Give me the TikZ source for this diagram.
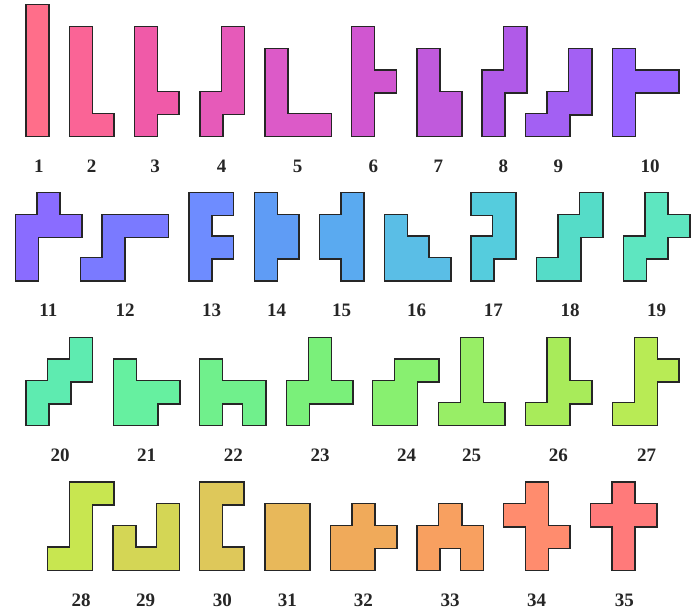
\documentclass[tikz,border=0pt]{standalone}
\usepackage{fontspec}
\setmainfont{Liberation Serif}
\usepackage{xcolor}
\def\hu{21.7}
\newcommand\hexo[4]{%
  \foreach \cc/\rr in {#4} {\draw[hexedge] (#1+\cc*\hu, #2+\rr*\hu) rectangle ++(\hu,\hu);}
  \foreach \cc/\rr in {#4} {\fill[#3] (#1+\cc*\hu, #2+\rr*\hu) rectangle ++(\hu,\hu);}
}
\definecolor{c1}{HTML}{FF6E8A}
\definecolor{c2}{HTML}{FA6496}
\definecolor{c3}{HTML}{F05AA8}
\definecolor{c4}{HTML}{E65AB9}
\definecolor{c5}{HTML}{DC5AC8}
\definecolor{c6}{HTML}{D056D0}
\definecolor{c7}{HTML}{C05ADC}
\definecolor{c8}{HTML}{B05AE8}
\definecolor{c9}{HTML}{A360F3}
\definecolor{c10}{HTML}{9966FF}
\definecolor{c11}{HTML}{8A6CFF}
\definecolor{c12}{HTML}{7A7AFF}
\definecolor{c13}{HTML}{6E8CFF}
\definecolor{c14}{HTML}{5F9CF5}
\definecolor{c15}{HTML}{5AAAF0}
\definecolor{c16}{HTML}{5ABEE6}
\definecolor{c17}{HTML}{55CCDD}
\definecolor{c18}{HTML}{55DCC8}
\definecolor{c19}{HTML}{5EE6C0}
\definecolor{c20}{HTML}{5EEBB0}
\definecolor{c21}{HTML}{66F0A0}
\definecolor{c22}{HTML}{70F08C}
\definecolor{c23}{HTML}{7AF07A}
\definecolor{c24}{HTML}{88F070}
\definecolor{c25}{HTML}{98EE66}
\definecolor{c26}{HTML}{A8EB5A}
\definecolor{c27}{HTML}{B8EB55}
\definecolor{c28}{HTML}{C8E650}
\definecolor{c29}{HTML}{D4D655}
\definecolor{c30}{HTML}{DEC85A}
\definecolor{c31}{HTML}{E8B85A}
\definecolor{c32}{HTML}{F0AA5A}
\definecolor{c33}{HTML}{F8A060}
\definecolor{c34}{HTML}{FF8C6E}
\definecolor{c35}{HTML}{FF7A7A}
\tikzset{
  hexedge/.style={draw=black!85, fill=black!85, line width=2.8pt, line join=miter},
  numlbl/.style={font=\fontsize{19}{19}\selectfont\bfseries, text=black!85, inner sep=0pt, anchor=center}
}
\begin{document}
\begin{tikzpicture}[x=1pt,y=-1pt]
\useasboundingbox (0,0) rectangle (696,610);
\fill[white] (0,0) rectangle (696,610);
% row 1
\hexo{26.7}{5.5}{c1}{0/0,0/1,0/2,0/3,0/4,0/5}
\hexo{70}{27.2}{c2}{0/0,0/1,0/2,0/3,0/4,1/4}
\hexo{135}{27.2}{c3}{0/0,0/1,0/2,0/3,0/4,1/3}
\hexo{200.5}{27.2}{c4}{1/0,1/1,1/2,1/3,0/3,0/4}
\hexo{265.7}{49}{c5}{0/0,0/1,0/2,0/3,1/3,2/3}
\hexo{352.3}{27.2}{c6}{0/0,0/1,0/2,0/3,0/4,1/2}
\hexo{417.7}{49}{c7}{0/0,0/1,0/2,0/3,1/2,1/3}
\hexo{482.7}{27.2}{c8}{1/0,1/1,1/2,0/2,0/3,0/4}
\hexo{526}{49}{c9}{2/0,2/1,2/2,1/2,1/3,0/3}
\hexo{613.3}{49}{c10}{0/0,0/1,0/2,0/3,1/1,2/1}
% row 2
\hexo{16}{193.3}{c11}{1/0,0/1,1/1,2/1,0/2,0/3}
\hexo{81}{215}{c12}{1/0,2/0,3/0,1/1,1/2,0/2}
\hexo{189.5}{193.3}{c13}{0/0,0/1,0/2,0/3,1/0,1/2}
\hexo{255}{193.3}{c14}{0/0,0/1,0/2,0/3,1/1,1/2}
\hexo{320}{193.3}{c15}{1/0,1/1,1/2,1/3,0/1,0/2}
\hexo{385}{215}{c16}{0/0,0/1,0/2,1/1,1/2,2/2}
\hexo{471.7}{193.3}{c17}{0/0,1/0,1/1,1/2,0/2,0/3}
\hexo{537}{193.3}{c18}{2/0,2/1,1/1,1/2,1/3,0/3}
\hexo{624}{193.3}{c19}{1/0,1/1,2/1,1/2,0/2,0/3}
% row 3
\hexo{26.7}{338}{c20}{2/0,2/1,1/1,1/2,0/2,0/3}
\hexo{114}{359.7}{c21}{0/0,0/1,0/2,1/1,2/1,1/2}
\hexo{200}{359.7}{c22}{0/0,0/1,0/2,1/1,2/1,2/2}
\hexo{287.3}{338}{c23}{1/0,1/1,1/2,0/2,2/2,0/3}
\hexo{373.3}{359.7}{c24}{1/0,2/0,0/1,1/1,0/2,1/2}
\hexo{439.3}{338}{c25}{1/0,1/1,1/2,1/3,0/3,2/3}
\hexo{526}{338}{c26}{1/0,1/1,1/2,1/3,2/2,0/3}
\hexo{613.3}{338}{c27}{1/0,1/1,1/2,1/3,2/1,0/3}
% row 4
\hexo{48.3}{482.7}{c28}{1/0,2/0,1/1,1/2,1/3,0/3}
\hexo{113.5}{504.4}{c29}{2/0,0/1,2/1,0/2,1/2,2/2}
\hexo{200}{482.7}{c30}{0/0,0/1,0/2,0/3,1/0,1/3}
\hexo{265.7}{504.4}{c31}{0/0,1/0,0/1,1/1,0/2,1/2}
\hexo{331}{504.4}{c32}{1/0,0/1,1/1,2/1,0/2,1/2}
\hexo{417.7}{504.4}{c33}{1/0,0/1,1/1,2/1,0/2,2/2}
\hexo{504.3}{482.7}{c34}{1/0,0/1,1/1,1/2,2/2,1/3}
\hexo{591}{482.7}{c35}{1/0,0/1,1/1,2/1,1/2,1/3}
% labels
\foreach \n/\x/\y in {1/39/166, 2/91.7/166, 3/155/166, 4/221.7/166, 5/297.7/166,
  6/373.3/166, 7/438.3/166, 8/503.3/166, 9/558.3/166, 10/650/166,
  11/48.3/310, 12/125/310, 13/211.7/310, 14/276.7/310, 15/341.7/310,
  16/416.7/310, 17/493.3/310, 18/570/310, 19/656.7/310,
  20/60/455, 21/146.7/455, 22/233.3/455, 23/320/455, 24/406.7/455,
  25/471.7/455, 26/558.3/455, 27/646.7/455,
  28/81/600, 29/145.7/600, 30/222.3/600, 31/287.3/600, 32/363.3/600,
  33/450/600, 34/536.7/600, 35/624.3/600}
  \node[numlbl] (lbl\n) at (\x,\y) {\n};
\end{tikzpicture}
\end{document}
